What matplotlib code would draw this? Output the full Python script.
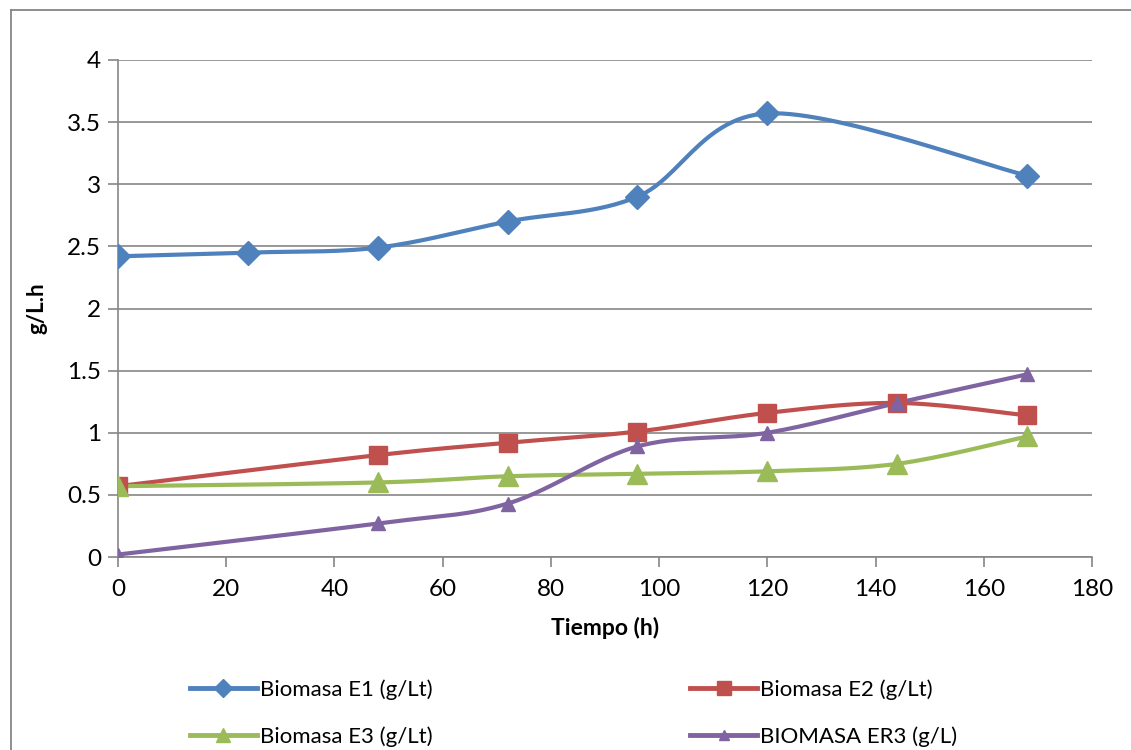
import numpy as np
import matplotlib.pyplot as plt
from matplotlib.lines import Line2D

# data
t_e1 = [0, 24, 48, 72, 96, 120, 168]
e1 = [2.42, 2.45, 2.49, 2.70, 2.90, 3.57, 3.07]
t_all = [0, 48, 72, 96, 120, 144, 168]
e2 = [0.57, 0.82, 0.92, 1.01, 1.16, 1.24, 1.14]
e3 = [0.57, 0.60, 0.65, 0.67, 0.69, 0.75, 0.97]
er3 = [0.02, 0.27, 0.43, 0.89, 1.00, 1.24, 1.47]
labels = ["Biomasa E1 (g/Lt)", "Biomasa E2 (g/Lt)", "Biomasa E3 (g/Lt)", "BIOMASA ER3 (g/L)"]

plt.rcParams['font.family'] = ['Lato', 'DejaVu Sans']


# excel-like smoothed line (catmull-rom bezier between the points)
def smooth(x, y, n=30):
    x = np.asarray(x, float)
    y = np.asarray(y, float)
    p = np.column_stack([x, y])
    pts = []
    for i in range(len(p) - 1):
        p0 = p[i - 1] if i > 0 else p[i]
        p1 = p[i]
        p2 = p[i + 1]
        p3 = p[i + 2] if i + 2 < len(p) else p[i + 1]
        c1 = p1 + (p2 - p0) / 6
        c2 = p2 - (p3 - p1) / 6
        s = np.linspace(0, 1, n)[:, None]
        b = (1 - s)**3 * p1 + 3 * (1 - s)**2 * s * c1 + 3 * (1 - s) * s**2 * c2 + s**3 * p2
        pts.append(b)
    pts = np.vstack(pts)
    return pts[:, 0], pts[:, 1]


fig = plt.figure(figsize=(11.31, 7.5), dpi=100)
ax = fig.add_axes([0.1043, 0.2573, 0.8612, 0.6627])

series = [
    (t_e1, e1, '#4F81BD', 'D', 12, labels[0]),
    (t_all, e2, '#C0504D', 's', 13, labels[1]),
    (t_all, e3, '#9BBB59', '^', 14, labels[2]),
    (t_all, er3, '#8064A2', '^', 10, labels[3]),
]
handles = []
for x, y, c, m, ms, lab in series:
    sx, sy = smooth(x, y)
    ax.plot(sx, sy, color=c, lw=3, solid_capstyle='round', zorder=3)
    ax.plot(x, y, ls='none', marker=m, ms=ms, color=c, zorder=4)
    handles.append(Line2D([], [], color=c, lw=3.5, marker=m, ms=ms * 0.75, label=lab))

ax.set_xlim(0, 180)
ax.set_ylim(0, 4)
ax.set_xticks(range(0, 181, 20))
ax.set_yticks([0, 0.5, 1, 1.5, 2, 2.5, 3, 3.5, 4])
ax.set_yticklabels(['0', '0.5', '1', '1.5', '2', '2.5', '3', '3.5', '4'])
ax.grid(axis='y', color='#868686', lw=1.2)
ax.set_axisbelow(True)
for s in ['top', 'right']:
    ax.spines[s].set_visible(False)
for s in ['left', 'bottom']:
    ax.spines[s].set_color('#868686')
    ax.spines[s].set_linewidth(1.2)
ax.tick_params(axis='both', colors='#868686', labelcolor='black', labelsize=17.5, length=7, width=1.2)
ax.tick_params(axis='x', pad=9)
ax.tick_params(axis='y', pad=5)
ax.set_xlabel("Tiempo (h)", fontsize=16.5, fontweight='bold', labelpad=12)
ax.set_ylabel("g/L.h", fontsize=16, fontweight='bold', labelpad=14)

# matplotlib fills legend columns first, so order handles as E1, E3, E2, ER3
order = [0, 2, 1, 3]
fig.legend([handles[i] for i in order], [labels[i] for i in order],
           loc='upper left', bbox_to_anchor=(0.160, 0.106), ncol=2, frameon=False,
           fontsize=16, handlelength=3.0, handletextpad=0.15, columnspacing=11.6,
           labelspacing=1.2, borderaxespad=0)

# chart area border: only left and top edges visible in the crop
fig.add_artist(Line2D([0.0095, 0.0095], [0, 0.987], transform=fig.transFigure, color='#868686', lw=1.3))
fig.add_artist(Line2D([0.0095, 1], [0.987, 0.987], transform=fig.transFigure, color='#868686', lw=1.3))

fig.savefig("out.png", dpi=100)
